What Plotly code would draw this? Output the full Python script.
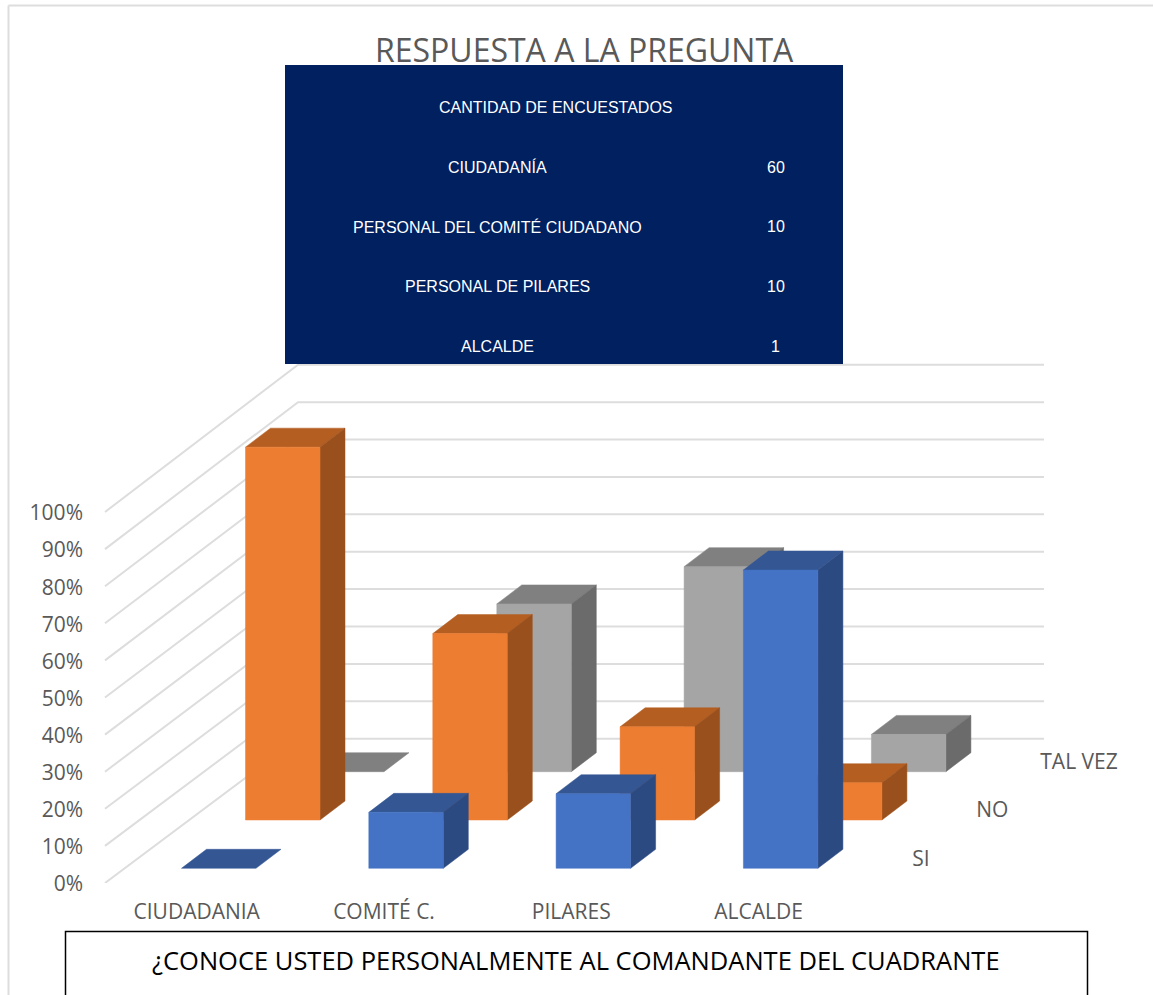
import plotly.graph_objects as go

# ---------- data ----------
categories = ["CIUDADANIA", "COMITÉ C.", "PILARES", "ALCALDE"]
series_names = ["SI", "NO", "TAL VEZ"]
si_values = [0, 15, 20, 80]
no_values = [100, 50, 25, 10]
talvez_values = [0, 45, 55, 10]
y_ticks = [0, 10, 20, 30, 40, 50, 60, 70, 80, 90, 100]
table_header = "CANTIDAD DE ENCUESTADOS"
table_labels = ["CIUDADANÍA", "PERSONAL DEL COMITÉ CIUDADANO", "PERSONAL DE PILARES", "ALCALDE"]
table_counts = [60, 10, 10, 1]
title_text = "RESPUESTA A LA PREGUNTA"
box_text = "¿CONOCE USTED PERSONALMENTE AL COMANDANTE DEL CUADRANTE"

# ---------- geometry ----------
W, H = 1153, 995
AX_L, AX_B = 90, 883          # pixel position of the plot's left and bottom edges
PX_CAT = 187.3                # pixels per category
PX_PCT = 3.71                 # pixels per percent
CAT0_PX = 196.7               # pixel centre of first category


def dx(px):
    return px / PX_CAT


def dy(px):
    return px / PX_PCT


x_range = [(AX_L - CAT0_PX) / PX_CAT, (W - CAT0_PX) / PX_CAT]
y_range = [0, AX_B / PX_PCT]

BAR_W = dx(74.5)
BAR_DX, BAR_DY = dx(25), dy(19)
ROW_DX, ROW_DY = dx(64), dy(48.3)
BAR_X0 = dx(-15.2)
BASE_Y0 = dy(883 - 868.3)
BAR_SCALE = 1.005
WALL_X0, WALL_X1, WALL_X2 = dx(105 - CAT0_PX), dx(298 - CAT0_PX), dx(1044 - CAT0_PX)
WALL_DY, WALL_SCALE = dy(144.3), 1.008


def px(v):
    return v / W


def py(v):
    return 1 - v / H


palette = [
    dict(front="#4472C4", top="#345794", side="#2C4A82"),
    dict(front="#ED7D31", top="#B55E22", side="#9A501C"),
    dict(front="#A5A5A5", top="#808080", side="#6B6B6B"),
]
all_values = [si_values, no_values, talvez_values]
TEXT = "#595959"
FONT = "Open Sans"

fig = go.Figure()

# walls / gridlines
gx, gy = [], []
for t in y_ticks:
    gx += [WALL_X0, WALL_X1, WALL_X2, None]
    gy += [t, WALL_DY + t * WALL_SCALE, WALL_DY + t * WALL_SCALE, None]
fig.add_trace(go.Scatter(x=gx, y=gy, mode="lines", line=dict(color="#DDDDDD", width=2),
                         hoverinfo="skip", showlegend=False))

# bars, back row first
for row in [2, 1, 0]:
    vals = all_values[row]
    faces = dict(front=([], []), top=([], []), side=([], []))
    base = BASE_Y0 + row * ROW_DY
    for i, v in enumerate(vals):
        x0 = i + BAR_X0 + row * ROW_DX
        x1 = x0 + BAR_W
        y1 = base + v * BAR_SCALE
        polys = dict(
            top=[(x0, y1), (x1, y1), (x1 + BAR_DX, y1 + BAR_DY), (x0 + BAR_DX, y1 + BAR_DY), (x0, y1)],
        )
        if v > 0:
            polys["front"] = [(x0, base), (x1, base), (x1, y1), (x0, y1), (x0, base)]
            polys["side"] = [(x1, base), (x1 + BAR_DX, base + BAR_DY), (x1 + BAR_DX, y1 + BAR_DY),
                             (x1, y1), (x1, base)]
        for k, pts in polys.items():
            faces[k][0].extend([p[0] for p in pts] + [None])
            faces[k][1].extend([p[1] for p in pts] + [None])
    for k in ["top", "side", "front"]:
        fig.add_trace(go.Scatter(x=faces[k][0], y=faces[k][1], mode="lines", fill="toself",
                                 fillcolor=palette[row][k], line=dict(width=0.5, color=palette[row][k]),
                                 name=series_names[row], hoverinfo="skip", showlegend=False))

# depth-axis labels
SERIES_LABEL_X = dx(912.3 - CAT0_PX)
fig.add_trace(go.Scatter(
    x=[SERIES_LABEL_X + r * ROW_DX for r in range(3)],
    y=[BASE_Y0 + r * ROW_DY + dy(8) for r in range(3)],
    mode="text", text=series_names, textposition="middle right",
    textfont=dict(family=FONT, size=21, color=TEXT), hoverinfo="skip", showlegend=False))

shapes = [
    # chart border
    dict(type="line", xref="paper", yref="paper", x0=px(8.5), x1=px(8.5), y0=py(5.5), y1=py(H + 5),
         line=dict(color="#DDDDDD", width=2)),
    dict(type="line", xref="paper", yref="paper", x0=px(8.5), x1=px(W + 5), y0=py(5.5), y1=py(5.5),
         line=dict(color="#DDDDDD", width=2)),
    # table background
    dict(type="rect", xref="paper", yref="paper", x0=px(285), x1=px(843), y0=py(65), y1=py(364),
         fillcolor="#002060", line=dict(width=0), layer="above"),
    # question box
    dict(type="rect", xref="paper", yref="paper", x0=px(65.5), x1=px(1087.5), y0=py(931.5), y1=py(H + 10),
         fillcolor="white", line=dict(color="black", width=1.5), layer="above"),
]


def note(text, cx, cy, size, color, family=FONT):
    return dict(text=str(text), x=px(cx), y=py(cy), xref="paper", yref="paper", showarrow=False,
                xanchor="center", yanchor="middle", font=dict(size=size, color=color, family=family))


TBL_FONT = "Liberation Sans"
annotations = [
    note(title_text, 584.5, 50, 32, TEXT),
    note(table_header, 556, 108, 16, "white", TBL_FONT),
    note(box_text, 576, 960, 25.5, "black"),
]
for row_y, label, count in zip([167, 226.5, 286.5, 346], table_labels, table_counts):
    annotations.append(note(label, 497, row_y, 16, "white", TBL_FONT))
    annotations.append(note(count, 776, row_y, 16, "white", TBL_FONT))

fig.update_layout(
    width=W, height=H, autosize=False,
    margin=dict(l=0, r=0, t=0, b=0),
    paper_bgcolor="white", plot_bgcolor="white",
    showlegend=False,
    shapes=shapes, annotations=annotations,
    xaxis=dict(domain=[AX_L / W, 1], range=x_range, tickmode="array", automargin=False,
               tickvals=list(range(len(categories))), ticktext=categories,
               showgrid=False, zeroline=False, showline=False, ticks="",
               ticklabelstandoff=14,
               tickfont=dict(family=FONT, size=21, color=TEXT)),
    yaxis=dict(domain=[(H - AX_B) / H, 1], range=y_range, tickmode="array", automargin=False,
               tickvals=y_ticks, ticktext=[f"{t}%" for t in y_ticks],
               showgrid=False, zeroline=False, showline=False, ticks="",
               ticklabelstandoff=6, ticklabelshift=1,
               tickfont=dict(family=FONT, size=21, color=TEXT)),
)

fig.write_html("out.html", config={"displayModeBar": False},
               post_script="document.body.style.margin='0';document.body.style.overflow='hidden';")
